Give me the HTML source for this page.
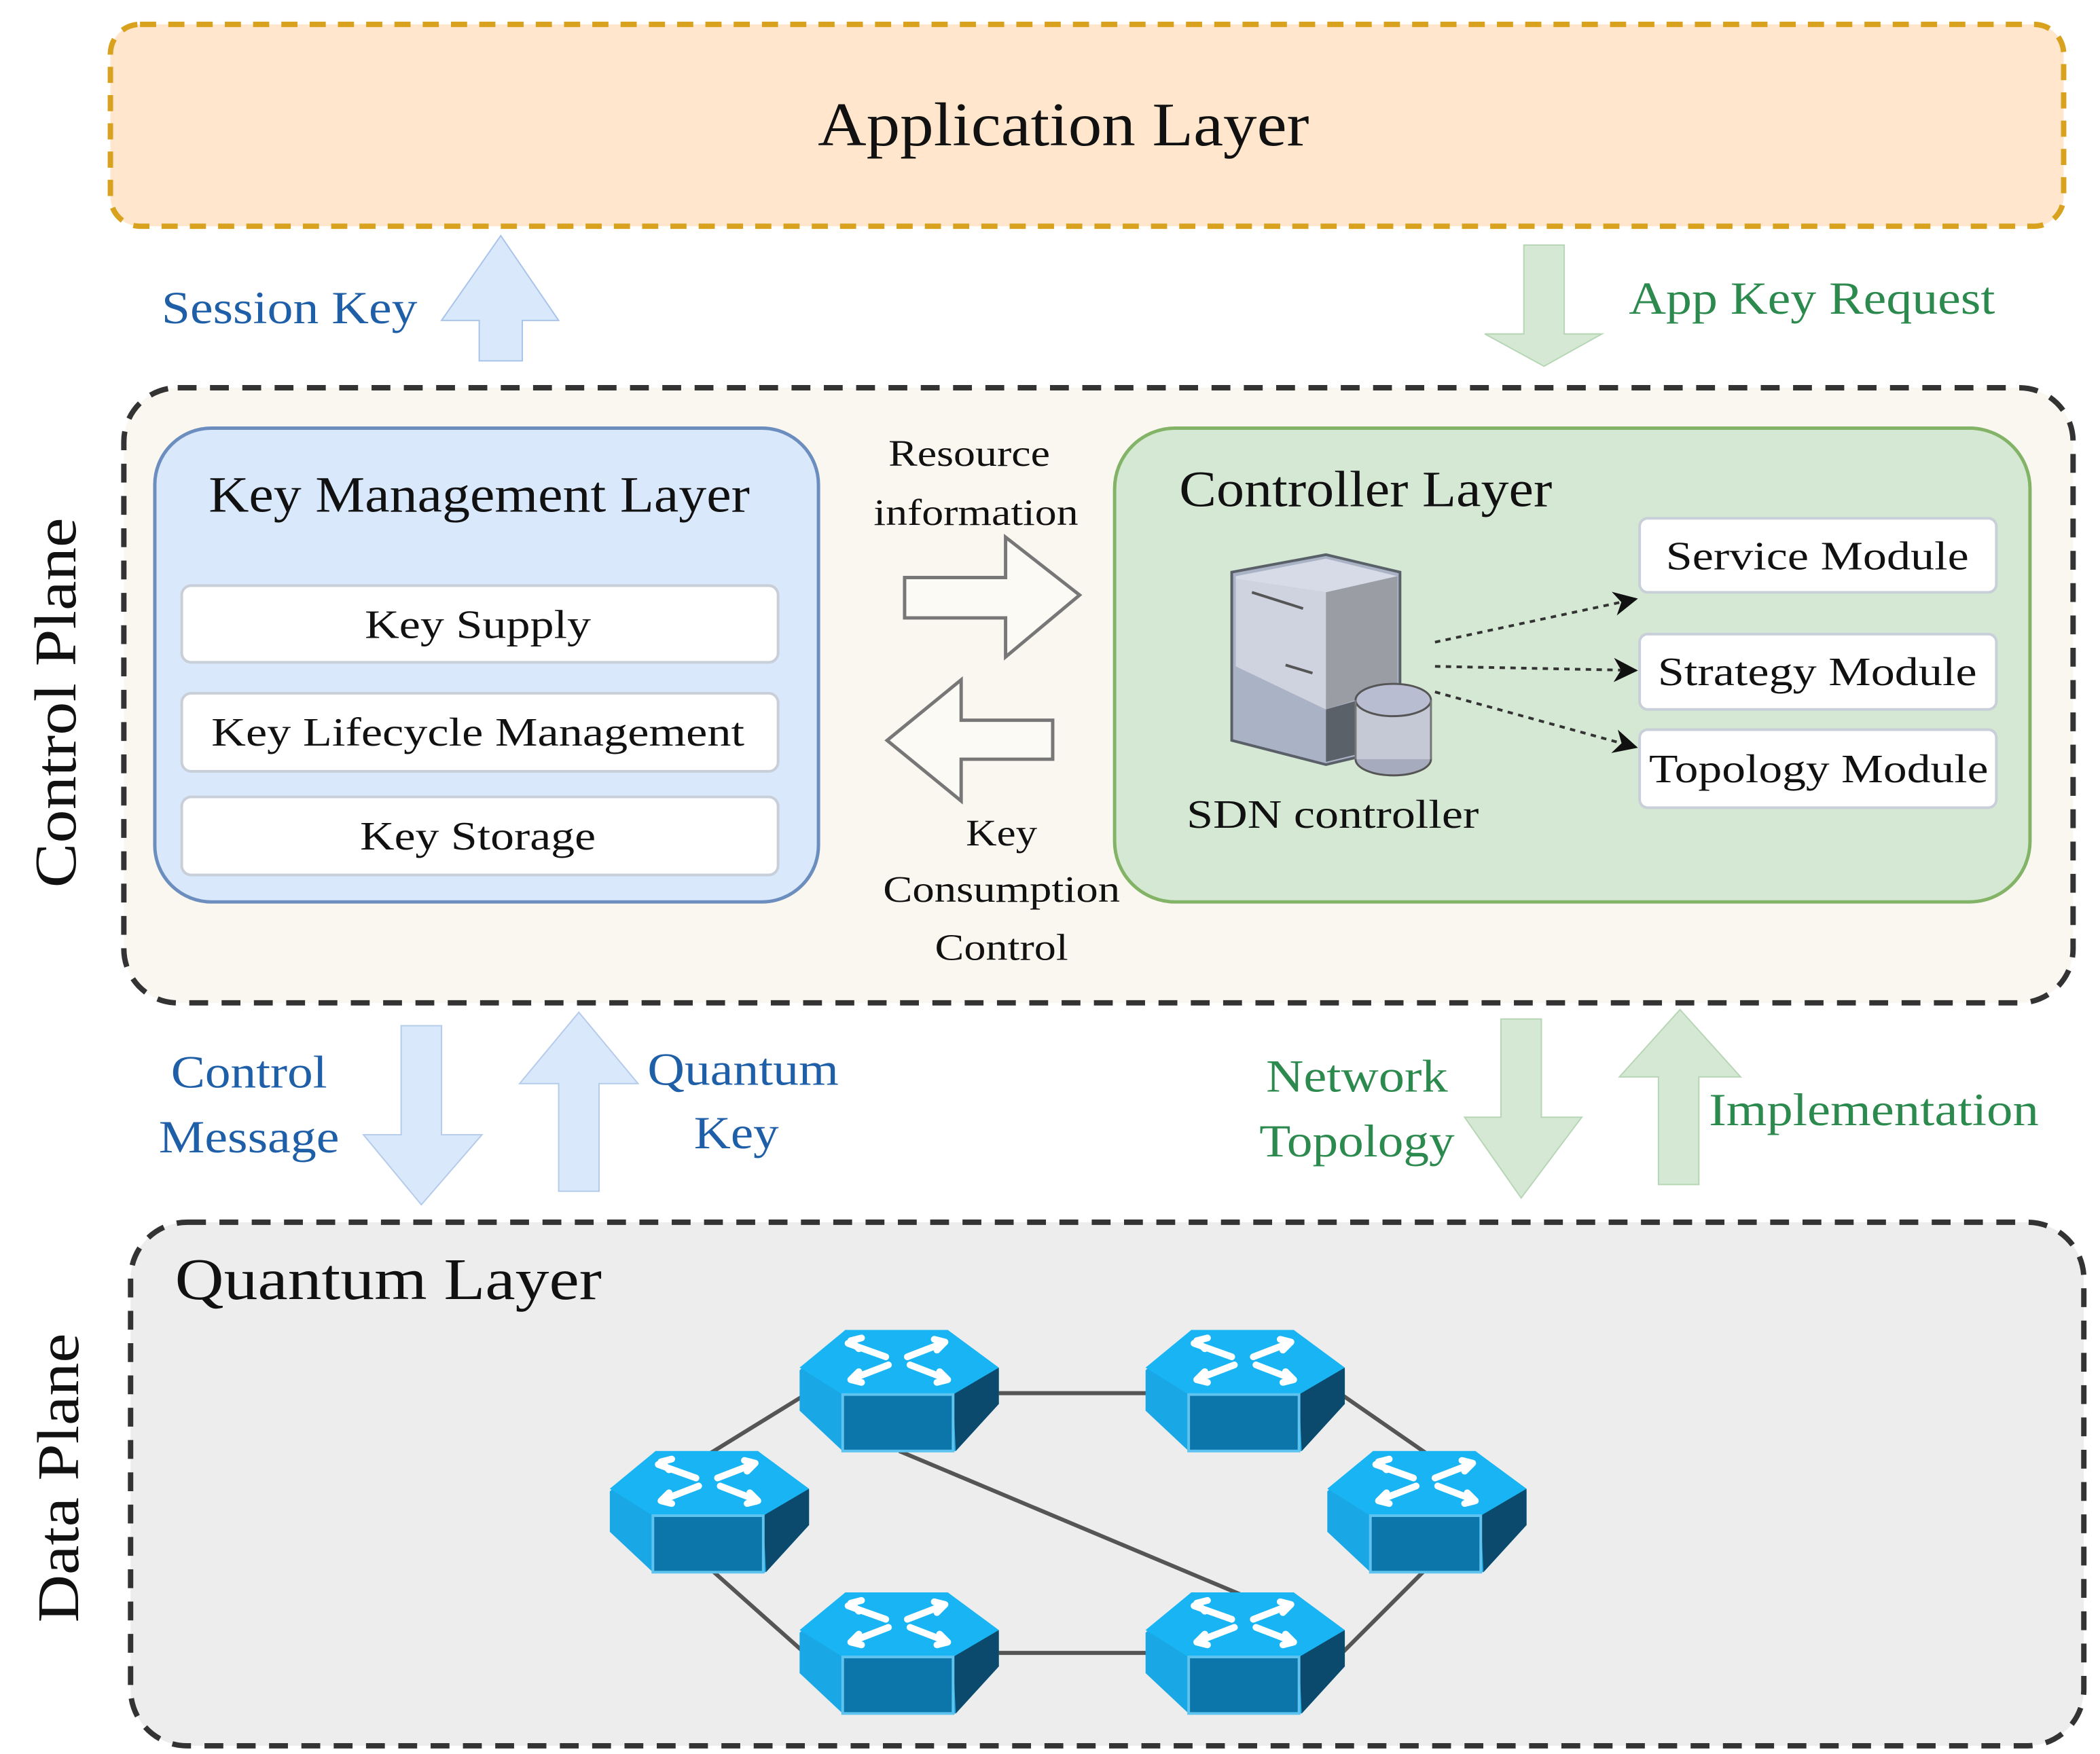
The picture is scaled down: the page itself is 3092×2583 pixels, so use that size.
<!DOCTYPE html>
<html><head><meta charset="utf-8"><style>
html,body{margin:0;padding:0;background:#fff}
svg{display:block}
text{font-family:"Liberation Serif",serif}
</style></head><body>
<svg width="3092" height="2583" viewBox="0 0 1560 1303" xmlns="http://www.w3.org/2000/svg">
<defs>
<g id="rt">
  <polygon points="-40,0 36,0 74,30 74,55 42,90 -42,90 -74,60 -74,30" fill="#1aa7e6"/>
  <polygon points="-40,0 36,0 74,28 40,48 -42,48 -74,28" fill="#18b4f3"/>
  <polygon points="40,48 74,28 74,55 42,90" fill="#0b4a6c"/>
  <rect x="-42" y="48" width="82" height="42" fill="#0c76aa" stroke="#5ec4ef" stroke-width="2"/>
  <g stroke="#ffffff" stroke-width="5" fill="none" stroke-linecap="round">
    <path d="M-38,10 L-10,20"/><path d="M-36,8 L-28,6 M-36,8 L-30,14"/>
    <path d="M6,20 L32,10"/><path d="M34,9 L26,7 M34,9 L28,15"/>
    <path d="M-8,26 L-34,36"/><path d="M-36,37 L-28,39 M-36,37 L-30,31"/>
    <path d="M8,26 L34,36"/><path d="M36,37 L28,39 M36,37 L30,31"/>
  </g>
</g>
<marker id="ah" viewBox="0 0 10 10" refX="9" refY="5" markerWidth="9" markerHeight="9" orient="auto"><path d="M0,0 L10,5 L0,10 L3,5 z" fill="#111"/></marker>
</defs>

<rect x="82" y="18" width="1451" height="150" rx="22" fill="#ffe6cc" stroke="#d9a21e" stroke-width="4" stroke-dasharray="12 9"/>
<text x="790" y="108" font-size="46" text-anchor="middle" fill="#111" textLength="365" lengthAdjust="spacingAndGlyphs">Application Layer</text>

<polygon points="372,175 415,238 388,238 388,268 356,268 356,238 328,238" fill="#dae8fc" stroke="#a9c4ea" stroke-width="1"/>
<text x="120" y="240" font-size="34" fill="#1f5fa8" textLength="190" lengthAdjust="spacingAndGlyphs">Session Key</text>
<polygon points="1132,182 1162,182 1162,248 1190,248 1147,272 1103,248 1132,248" fill="#d5e8d4" stroke="#b7d6b5" stroke-width="1"/>
<text x="1210" y="233" font-size="34" fill="#2d8a4e" textLength="272" lengthAdjust="spacingAndGlyphs">App Key Request</text>

<rect x="92" y="288" width="1448" height="457" rx="40" fill="#f9f7ef" stroke="#333" stroke-width="4" stroke-dasharray="14 10"/>
<text transform="translate(56,522) rotate(-90)" font-size="44" text-anchor="middle" fill="#111" textLength="275" lengthAdjust="spacingAndGlyphs">Control Plane</text>

<rect x="115" y="318" width="493" height="352" rx="42" fill="#dae8fc" stroke="#6c8ebf" stroke-width="2.5"/>
<text x="356" y="380" font-size="38" text-anchor="middle" fill="#111" textLength="402" lengthAdjust="spacingAndGlyphs">Key Management Layer</text>
<rect x="135" y="435" width="443" height="57" rx="7" fill="#fff" stroke="#c8cfd8" stroke-width="2"/>
<text x="355" y="474" font-size="30" text-anchor="middle" fill="#111" textLength="168" lengthAdjust="spacingAndGlyphs">Key Supply</text>
<rect x="135" y="515" width="443" height="58" rx="7" fill="#fff" stroke="#c8cfd8" stroke-width="2"/>
<text x="355" y="554" font-size="30" text-anchor="middle" fill="#111" textLength="396" lengthAdjust="spacingAndGlyphs">Key Lifecycle Management</text>
<rect x="135" y="592" width="443" height="58" rx="7" fill="#fff" stroke="#c8cfd8" stroke-width="2"/>
<text x="355" y="631" font-size="30" text-anchor="middle" fill="#111" textLength="175" lengthAdjust="spacingAndGlyphs">Key Storage</text>

<text x="720" y="346" font-size="28" text-anchor="middle" fill="#111" textLength="120" lengthAdjust="spacingAndGlyphs">Resource</text>
<text x="725" y="390" font-size="28" text-anchor="middle" fill="#111" textLength="152" lengthAdjust="spacingAndGlyphs">information</text>
<polygon points="672,429 747,429 747,399 802,442 747,488 747,459 672,459" fill="#fbfaf4" stroke="#777" stroke-width="2.5"/>
<polygon points="659,550 714,505 714,535 782,535 782,564 714,564 714,595" fill="#fbfaf4" stroke="#777" stroke-width="2.5"/>
<text x="744" y="628" font-size="28" text-anchor="middle" fill="#111" textLength="53" lengthAdjust="spacingAndGlyphs">Key</text>
<text x="744" y="670" font-size="28" text-anchor="middle" fill="#111" textLength="176" lengthAdjust="spacingAndGlyphs">Consumption</text>
<text x="744" y="713" font-size="28" text-anchor="middle" fill="#111" textLength="99" lengthAdjust="spacingAndGlyphs">Control</text>

<rect x="828" y="318" width="680" height="352" rx="45" fill="#d5e8d4" stroke="#82b366" stroke-width="2.5"/>
<text x="876" y="376" font-size="38" fill="#111" textLength="277" lengthAdjust="spacingAndGlyphs">Controller Layer</text>
<rect x="1218" y="385" width="265" height="55" rx="6" fill="#fff" stroke="#c8cfd8" stroke-width="2"/>
<text x="1350" y="423" font-size="30" text-anchor="middle" fill="#111" textLength="225" lengthAdjust="spacingAndGlyphs">Service Module</text>
<rect x="1218" y="471" width="265" height="56" rx="6" fill="#fff" stroke="#c8cfd8" stroke-width="2"/>
<text x="1350" y="509" font-size="30" text-anchor="middle" fill="#111" textLength="237" lengthAdjust="spacingAndGlyphs">Strategy Module</text>
<rect x="1218" y="542" width="265" height="58" rx="6" fill="#fff" stroke="#c8cfd8" stroke-width="2"/>
<text x="1351" y="581" font-size="30" text-anchor="middle" fill="#111" textLength="252" lengthAdjust="spacingAndGlyphs">Topology Module</text>

<polygon points="915,425 985,412 1040,425 1040,555 985,568 915,550" fill="#aab3c6" stroke="#5a6068" stroke-width="2"/>
<polygon points="918,428 985,415 1038,428 985,440 918,430" fill="#d7dbe7"/>
<polygon points="918,430 985,440 985,527 918,495" fill="#cfd3e0"/>
<polygon points="985,440 1038,428 1038,510 985,527" fill="#9a9ea4"/>
<polygon points="985,527 1038,512 1038,553 985,566" fill="#5b6169"/>
<path d="M930,440 L968,452 M955,494 L975,500" stroke="#555" stroke-width="2"/>
<ellipse cx="1035" cy="564" rx="28" ry="12" fill="#a6abbd" stroke="#555" stroke-width="1.5"/>
<rect x="1007" y="520" width="56" height="44" fill="#c5c9d6"/>
<ellipse cx="1035" cy="520" rx="28" ry="12" fill="#b9bdd1" stroke="#555" stroke-width="1.5"/>
<path d="M1007,520 L1007,564 M1063,520 L1063,564" stroke="#777" stroke-width="1.5"/>
<text x="990" y="615" font-size="30" text-anchor="middle" fill="#111" textLength="217" lengthAdjust="spacingAndGlyphs">SDN controller</text>
<g stroke="#333" stroke-width="2" stroke-dasharray="4 4" fill="none" marker-end="url(#ah)">
<line x1="1066" y1="477" x2="1215" y2="445"/>
<line x1="1066" y1="495" x2="1215" y2="498"/>
<line x1="1066" y1="514" x2="1215" y2="555"/>
</g>

<polygon points="298,762 328,762 328,843 358,843 313,895 270,843 298,843" fill="#dae8fc" stroke="#b4cbea" stroke-width="1"/>
<text x="185" y="808" font-size="34" text-anchor="middle" fill="#1f5fa8" textLength="116" lengthAdjust="spacingAndGlyphs">Control</text>
<text x="185" y="856" font-size="34" text-anchor="middle" fill="#1f5fa8" textLength="134" lengthAdjust="spacingAndGlyphs">Message</text>
<polygon points="430,752 474,805 445,805 445,885 415,885 415,805 386,805" fill="#dae8fc" stroke="#b4cbea" stroke-width="1"/>
<text x="552" y="806" font-size="34" text-anchor="middle" fill="#1f5fa8" textLength="142" lengthAdjust="spacingAndGlyphs">Quantum</text>
<text x="547" y="853" font-size="34" text-anchor="middle" fill="#1f5fa8" textLength="63" lengthAdjust="spacingAndGlyphs">Key</text>
<polygon points="1115,757 1145,757 1145,830 1175,830 1130,890 1088,830 1115,830" fill="#d5e8d4" stroke="#b7d6b5" stroke-width="1"/>
<text x="1008" y="811" font-size="34" text-anchor="middle" fill="#2d8a4e" textLength="135" lengthAdjust="spacingAndGlyphs">Network</text>
<text x="1008" y="859" font-size="34" text-anchor="middle" fill="#2d8a4e" textLength="145" lengthAdjust="spacingAndGlyphs">Topology</text>
<polygon points="1248,750 1293,800 1262,800 1262,880 1232,880 1232,800 1203,800" fill="#d5e8d4" stroke="#b7d6b5" stroke-width="1"/>
<text x="1392" y="836" font-size="34" text-anchor="middle" fill="#2d8a4e" textLength="245" lengthAdjust="spacingAndGlyphs">Implementation</text>

<rect x="97" y="908" width="1451" height="389" rx="42" fill="#ededed" stroke="#333" stroke-width="4" stroke-dasharray="14 10"/>
<text transform="translate(58,1098) rotate(-90)" font-size="44" text-anchor="middle" fill="#111" textLength="215" lengthAdjust="spacingAndGlyphs">Data Plane</text>
<text x="130" y="965" font-size="44" fill="#111" textLength="317" lengthAdjust="spacingAndGlyphs">Quantum Layer</text>

<g stroke="#555" stroke-width="3" fill="none">
<line x1="668" y1="1035" x2="925" y2="1035"/>
<line x1="668" y1="1228" x2="925" y2="1228"/>
<line x1="600" y1="1035" x2="527" y2="1080"/>
<line x1="995" y1="1035" x2="1060" y2="1080"/>
<line x1="527" y1="1165" x2="600" y2="1230"/>
<line x1="1060" y1="1165" x2="995" y2="1230"/>
<line x1="668" y1="1078" x2="925" y2="1186"/>
</g>
<use href="#rt" x="668" y="988"/>
<use href="#rt" x="925" y="988"/>
<use href="#rt" x="527" y="1078"/>
<use href="#rt" x="1060" y="1078"/>
<use href="#rt" x="668" y="1183"/>
<use href="#rt" x="925" y="1183"/>
</svg>
</body></html>
